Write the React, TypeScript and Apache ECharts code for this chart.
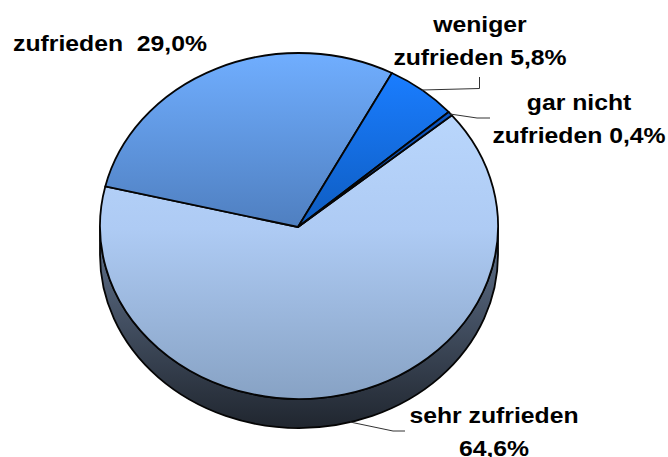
import React, { useEffect, useRef } from "react";
import * as echarts from "echarts";

const categories = ["sehr zufrieden", "zufrieden", "weniger zufrieden", "gar nicht zufrieden"];
const values = [64.6, 29.0, 5.8, 0.4];
const labelTexts = ["sehr zufrieden\n64,6%", "zufrieden  29,0%", "weniger\nzufrieden 5,8%", "gar nicht\nzufrieden 0,4%"];

const CX = 299, CY = 226, RX = 199, RY = 173, DEPTH = 29, START = 50.2;
const FONT = "Liberation Sans, Arial, sans-serif";
const faces = [
  [[0, "#b9d6fc"], [0.4, "#aecbf4"], [1, "#87a2c4"]],
  [[0, "#70aeff"], [1, "#4f7fc0"]],
  [[0, "#1a7dff"], [1, "#0e5cc0"]],
  [[0, "#0d57c4"], [1, "#0a4aa8"]],
];
const labelPos = [[494, 432], [110, 43], [480, 41], [579, 119]];
const leaders = [
  [[350, 422], [393, 431], [405, 431]],
  null,
  [[422, 90], [479.5, 88.5], [479.5, 77]],
  [[450, 114], [477, 118], [490, 118]],
];

const pt = (deg: number) => {
  const a = (deg * Math.PI) / 180;
  return [CX + RX * Math.sin(a), CY - RY * Math.cos(a)];
};
const grad = (stops: any[]) =>
  new echarts.graphic.LinearGradient(0, 0, 0, 1, stops.map(([offset, color]) => ({ offset, color })));

export default function App() {
  const ref = useRef<HTMLDivElement>(null);
  useEffect(() => {
    const chart = echarts.init(ref.current!, undefined, { renderer: "svg" });
    const total = values.reduce((a, b) => a + b, 0);
    chart.setOption({
      animation: false,
      backgroundColor: "#ffffff",
      series: [
        {
          type: "custom",
          coordinateSystem: "none",
          silent: true,
          data: categories.map((name, i) => ({ name, value: values[i] })),
          renderItem: (params: any, api: any) => {
            const i = params.dataIndex;
            const before = values.slice(0, i).reduce((a, b) => a + b, 0);
            const a0 = START + (before / total) * 360;
            const a1 = a0 + (api.value(0) / total) * 360;
            const [x0, y0] = pt(a0);
            const [x1, y1] = pt(a1);
            const large = a1 - a0 > 180 ? 1 : 0;
            const children: any[] = [];
            if (i === 0) {
              children.push({
                type: "path",
                shape: {
                  pathData: `M${CX - RX} ${CY}A${RX} ${RY} 0 0 0 ${CX + RX} ${CY}L${CX + RX} ${CY + DEPTH}A${RX} ${RY} 0 0 1 ${CX - RX} ${CY + DEPTH}Z`,
                },
                style: { fill: grad([[0, "#62748f"], [1, "#20262f"]]), stroke: "#050505", lineWidth: 1.8 },
              });
            }
            children.push({
              type: "path",
              shape: { pathData: `M${CX - 1} ${CY + 1}L${x0} ${y0}A${RX} ${RY} 0 ${large} 1 ${x1} ${y1}Z` },
              style: { fill: grad(faces[i]), stroke: "#050505", lineWidth: 1.8, lineJoin: "round" },
            });
            const l = leaders[i];
            if (l) {
              children.push({
                type: "polyline",
                shape: { points: l },
                style: { fill: null, stroke: "#333333", lineWidth: 1 },
              });
            }
            children.push({
              type: "text",
              x: labelPos[i][0],
              y: labelPos[i][1],
              scaleX: 1.1,
              style: {
                text: labelTexts[i],
                fill: "#000000",
                font: `bold 22.5px ${FONT}`,
                lineHeight: 33,
                align: "center",
                verticalAlign: "middle",
              },
            });
            return { type: "group", children };
          },
        },
      ],
    });
    return () => chart.dispose();
  }, []);
  return <div ref={ref} style={{ position: "fixed", left: 0, top: 0, width: 668, height: 457 }} />;
}
